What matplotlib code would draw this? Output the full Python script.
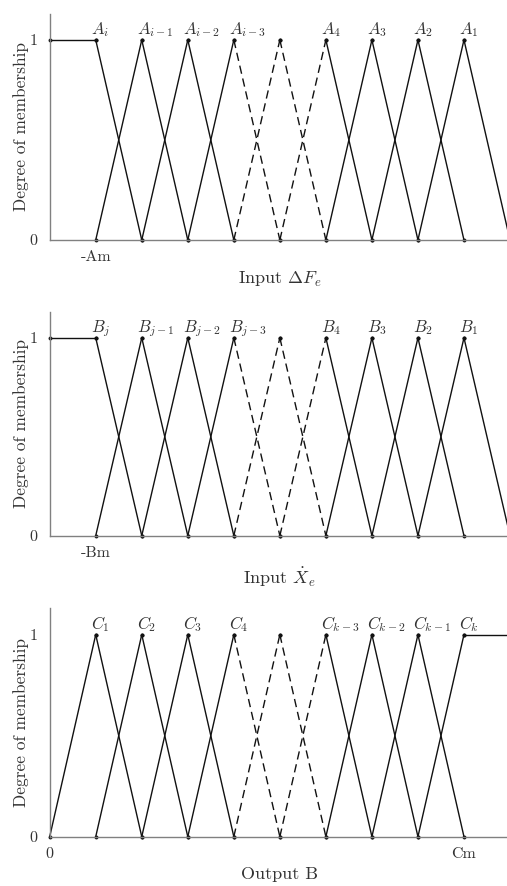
import matplotlib
matplotlib.use("Agg")
import matplotlib.pyplot as plt

plt.rcParams['font.family'] = ['cmr10', 'DejaVu Serif']
plt.rcParams['mathtext.fontset'] = 'cm'
plt.rcParams['axes.unicode_minus'] = False
plt.rcParams['axes.formatter.use_mathtext'] = True

# Data
centers = [1, 2, 3, 4, 5, 6, 7, 8, 9]
labels_A = [r'$A_i$', r'$A_{i-1}$', r'$A_{i-2}$', r'$A_{i-3}$', '', r'$A_4$', r'$A_3$', r'$A_2$', r'$A_1$']
labels_B = [r'$B_j$', r'$B_{j-1}$', r'$B_{j-2}$', r'$B_{j-3}$', '', r'$B_4$', r'$B_3$', r'$B_2$', r'$B_1$']
labels_C = [r'$C_1$', r'$C_2$', r'$C_3$', r'$C_4$', '', r'$C_{k-3}$', r'$C_{k-2}$', r'$C_{k-1}$', r'$C_k$']
dashed_from, dashed_to = 4, 6   # x range of dashed sets
x_min, x_max = 0, 10
xticks_A = [1, 10]; xticklabels_A = ['-Am', '0']
xticks_B = [1, 10]; xticklabels_B = ['-Bm', '0']
xticks_C = [0, 9]; xticklabels_C = ['0', 'Cm']
xlabels = [r'Input $\Delta F_e$', r'Input $\dot{X}_e$', 'Output B']

LC = '#111111'
SC = '#808080'
TC = '#333333'

fig = plt.figure(figsize=(5.07, 8.86), dpi=100)
rects = [
    [49.7/507, 1-240/886, 460.3/507, 226.5/886],
    [49.7/507, 1-535.7/886, 460.3/507, 224.0/886],
    [49.7/507, 1-836.7/886, 460.3/507, 228.7/886],
]

def seg(ax, x0, y0, x1, y1):
    dashed = (x0 >= dashed_from and x1 <= dashed_to)
    ax.plot([x0, x1], [y0, y1], color=LC, lw=1.0,
            ls=(0, (6, 3.5)) if dashed else '-',
            marker='o', ms=1.8, mfc=LC, mec=LC, clip_on=False)

def draw(ax, labels, left_shoulder):
    for i, c in enumerate(centers):
        if left_shoulder and i == 0:
            seg(ax, x_min, 1, c, 1)
            seg(ax, c, 1, c + 1, 0)
        elif (not left_shoulder) and i == len(centers) - 1:
            seg(ax, c - 1, 0, c, 1)
            seg(ax, c, 1, x_max, 1)
        else:
            seg(ax, c - 1, 0, c, 1)
            seg(ax, c, 1, c + 1, 0)
        if labels[i]:
            ax.text(c - 0.1, 1.028, labels[i], ha='left', va='baseline',
                    fontsize=12, color=TC)

panels = [
    (labels_A, True, xticks_A, xticklabels_A),
    (labels_B, True, xticks_B, xticklabels_B),
    (labels_C, False, xticks_C, xticklabels_C),
]
for k, (labs, ls, xt, xtl) in enumerate(panels):
    ax = fig.add_axes(rects[k])
    draw(ax, labs, ls)
    ax.set_xlim(x_min, x_max)
    ax.set_ylim(0, 1.132)
    for s in ['top', 'right']:
        ax.spines[s].set_visible(False)
    for s in ['left', 'bottom']:
        ax.spines[s].set_color(SC)
        ax.spines[s].set_linewidth(1.0)
    ax.set_yticks([0, 1])
    ax.set_yticklabels(['0', '1'])
    ax.set_xticks(xt)
    ax.set_xticklabels(xtl)
    ax.tick_params(axis='both', length=0, labelsize=11.5, labelcolor=TC)
    ax.tick_params(axis='y', pad=9)
    ax.tick_params(axis='x', pad=7.5)
    ax.set_ylabel('Degree of membership', fontsize=12.5, color=TC, labelpad=0)
    ax.set_xlabel(xlabels[k], fontsize=13, color=TC, labelpad=4)

fig.savefig('out.png', dpi=100)
